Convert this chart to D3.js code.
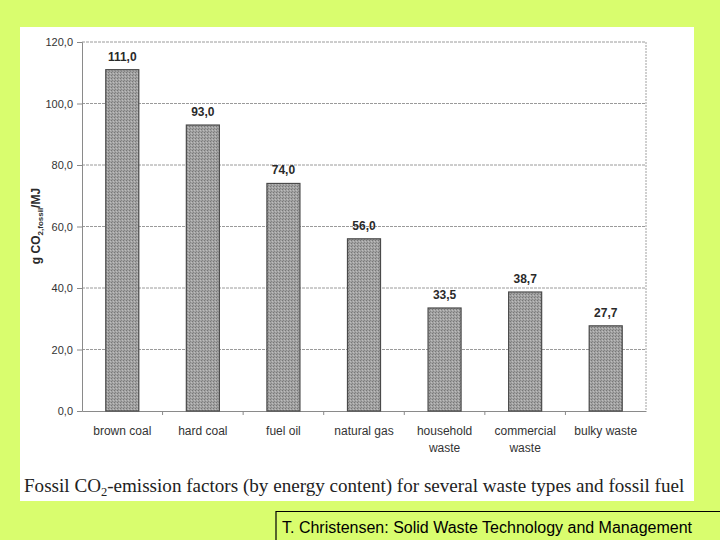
<!DOCTYPE html>
<html><head><meta charset="utf-8">
<script src="https://cdn.jsdelivr.net/npm/d3@7"></script>
<style>html,body{margin:0;padding:0;background:#d9fd6e;}svg{display:block;}</style>
</head><body>
<svg id="c" width="720" height="540"></svg>
<script>
const categories = [["brown coal"],["hard coal"],["fuel oil"],["natural gas"],["household","waste"],["commercial","waste"],["bulky waste"]];
const values = [111.0, 93.0, 74.0, 56.0, 33.5, 38.7, 27.7];
const yTicks = [0, 20, 40, 60, 80, 100, 120];

const svg = d3.select("#c");
const fmt = v => v.toFixed(1).replace(".", ",");
const SANS = "Arial, Liberation Sans, sans-serif";

// white panel
svg.append("rect").attr("x",20).attr("y",27).attr("width",674).attr("height",474).attr("fill","#ffffff");

// texture pattern
const defs = svg.append("defs");
const pat = defs.append("pattern").attr("id","tex").attr("patternUnits","userSpaceOnUse").attr("width",3).attr("height",3);
pat.append("rect").attr("width",3).attr("height",3).attr("fill","#a2a2a2");
pat.append("rect").attr("x",0).attr("y",0).attr("width",1).attr("height",1).attr("fill","#777");
pat.append("rect").attr("x",2).attr("y",1).attr("width",1).attr("height",1).attr("fill","#bdbdbd");
pat.append("rect").attr("x",1).attr("y",2).attr("width",1).attr("height",1).attr("fill","#858585");

const L = 82, R = 646, T = 42, B = 411;
const x = d3.scaleBand().domain(d3.range(categories.length)).range([L, R]).paddingInner(0.59).paddingOuter(0.295);
const xb = d3.scaleBand().domain(d3.range(categories.length)).range([L, R]);
const y = d3.scaleLinear().domain([0, 120]).range([B, T]);

// gridlines
svg.append("g").selectAll("line").data(yTicks.filter(d=>d>0)).join("line")
  .attr("x1",L).attr("x2",R).attr("y1",d=>y(d)).attr("y2",d=>y(d))
  .attr("stroke","#9a9a9a").attr("stroke-width",1).attr("stroke-dasharray","3,1");
// right border dotted
svg.append("line").attr("x1",R).attr("x2",R).attr("y1",T).attr("y2",B)
  .attr("stroke","#a0a0a0").attr("stroke-dasharray","2,1");

// y axis
const yAxis = d3.axisLeft(y).tickValues(yTicks).tickFormat(fmt).tickSize(5).tickPadding(4);
const ya = svg.append("g").attr("transform",`translate(${L},0)`).call(yAxis);
ya.select(".domain").attr("stroke","#8a8a8a");
ya.selectAll(".tick line").attr("stroke","#8a8a8a");
ya.selectAll(".tick text").attr("font-family",SANS).attr("font-size",11).attr("fill","#333");

// x axis
const xAxis = d3.axisBottom(xb).tickFormat("").tickSize(0);
const xa = svg.append("g").attr("transform",`translate(0,${B})`).call(xAxis);
xa.select(".domain").attr("stroke","#8a8a8a");
xa.selectAll(".tick").remove();
svg.append("g").selectAll("line").data(d3.range(1, categories.length)).join("line")
  .attr("x1",d=>xb(d)).attr("x2",d=>xb(d)).attr("y1",B).attr("y2",B+4)
  .attr("stroke","#8a8a8a");

// bars
svg.append("g").selectAll("rect").data(values).join("rect")
  .attr("x",(d,i)=>x(i)).attr("width",x.bandwidth())
  .attr("y",d=>y(d)).attr("height",d=>B-y(d))
  .attr("fill","url(#tex)").attr("stroke","#4a4a4a").attr("stroke-width",1.2);

// value labels
svg.append("g").selectAll("text").data(values).join("text")
  .attr("x",(d,i)=>x(i)+x.bandwidth()/2).attr("y",d=>y(d)-9)
  .attr("text-anchor","middle").attr("font-family",SANS)
  .attr("font-weight","bold").attr("font-size",12).attr("fill","#2a2a2a")
  .text(fmt);

// category labels
const cl = svg.append("g").selectAll("text").data(categories).join("text")
  .attr("x",(d,i)=>xb(i)+xb.bandwidth()/2).attr("y",435)
  .attr("text-anchor","middle").attr("font-family",SANS)
  .attr("font-size",12).attr("fill","#333");
cl.selectAll("tspan").data(d=>d).join("tspan")
  .attr("x",function(){return this.parentNode.getAttribute("x");})
  .attr("dy",(d,i)=>i===0?0:17).text(d=>d);

// y title
const yt = svg.append("text").attr("transform","translate(40,226) rotate(-90)")
  .attr("text-anchor","middle").attr("font-family",SANS)
  .attr("font-weight","bold").attr("font-size",12).attr("fill","#2a2a2a");
yt.append("tspan").text("g CO");
yt.append("tspan").attr("font-size",8).attr("dy",3).text("2,fossil");
yt.append("tspan").attr("dy",-3).text("/MJ");

// caption
const cap = svg.append("text").attr("x",24).attr("y",492)
  .attr("font-family","Times New Roman, Liberation Serif, serif").attr("font-size",19.1).attr("fill","#222");
cap.append("tspan").text("Fossil CO");
cap.append("tspan").attr("font-size",12.5).attr("dy",4).text("2");
cap.append("tspan").attr("dy",-4).text("-emission factors (by energy content) for several waste types and fossil fuel");

// footer box
svg.append("path").attr("d","M276,540 V511.5 H720").attr("fill","none").attr("stroke","#000").attr("stroke-width",1.2);
svg.append("text").attr("x",282).attr("y",533)
  .attr("font-family",SANS).attr("font-size",16).attr("fill","#000")
  .text("T. Christensen: Solid Waste Technology and Management");
</script>
</body></html>
